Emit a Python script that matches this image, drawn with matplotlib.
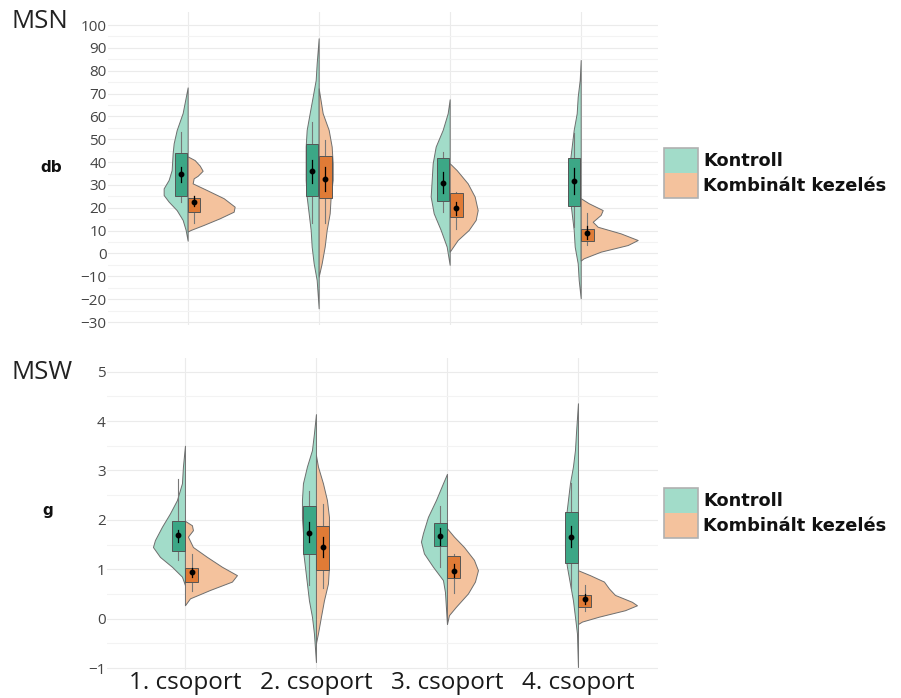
import matplotlib
matplotlib.use('Agg')
import matplotlib.pyplot as plt
import numpy as np
from matplotlib.patches import Rectangle

plt.rcParams['font.family'] = ['Open Sans', 'DejaVu Sans']

# Data
groups = ['1. csoport', '2. csoport', '3. csoport', '4. csoport']
series = ['Kontroll', 'Kombinált kezelés']

# MSN (db): violin outlines as (value, density) pairs, density in arbitrary units
msn_kontroll_violin = [
    [(72.7, 0), (61.5, 5), (54, 11), (48.2, 14), (43.9, 15), (36.5, 16), (32.2, 19),
     (28.5, 24), (25.6, 24), (22.7, 19), (19, 11), (14.7, 5), (10.3, 2), (5.6, 0)],
    [(94.2, 0), (83.2, 2), (75.9, 3), (68.6, 6), (61.4, 9), (54.1, 12), (46.8, 13),
     (39.5, 13), (32.2, 13), (24.9, 12), (17.6, 10), (10.3, 8), (3, 7), (-4.3, 5),
     (-11.6, 2), (-24, 0)],
    [(67.5, 0), (61.4, 2), (54.1, 7), (46.8, 14), (39.5, 17), (32.2, 18), (24.9, 19),
     (17.6, 16), (10.3, 9), (3, 3), (-5, 0)],
    [(84.7, 0), (75.9, 1), (68.6, 3), (61.4, 4), (54.1, 7), (46.8, 9), (39.5, 11),
     (32.2, 12), (24.9, 11), (17.6, 9), (10.3, 7), (3, 6), (-4.3, 3), (-11.6, 2),
     (-19.6, 0)],
]
msn_komb_violin = [
    [(42.5, 0), (40.9, 7), (38.5, 12), (36.2, 15), (34, 10), (32.9, 6), (30.7, 5),
     (27.8, 19), (24.2, 36), (20.5, 47), (18.3, 46), (15.4, 32), (12.5, 16),
     (10.3, 3), (9.6, 0)],
    [(72.3, 0), (61.4, 4), (54.1, 10), (46.8, 13), (39.5, 14), (32.2, 14), (24.9, 12),
     (17.6, 11), (10.3, 8), (3, 6), (-4.3, 3), (-10.1, 0)],
    [(39.5, 0), (36.5, 7), (30.7, 18), (24.9, 25), (19, 28), (14.7, 26), (10.3, 19),
     (5.9, 8), (0.8, 0)],
    [(24.2, 0), (22, 8), (19, 22), (16.9, 20), (13.9, 12), (11.7, 17), (8.8, 40),
     (5.9, 57), (3.7, 47), (0.8, 20), (-2.1, 3), (-3.1, 0)],
]
msn_kontroll_q1 = [25.2, 25.2, 23.0, 20.9]
msn_kontroll_q3 = [44.1, 47.8, 41.7, 41.7]
msn_kontroll_lo = [22.7, 13.2, 18.3, 11.5]
msn_kontroll_hi = [53.0, 57.7, 44.6, 52.8]
msn_kontroll_mean = [34.7, 36.0, 31.0, 31.7]
msn_kontroll_ci = [(31.5, 38.0), (31.0, 41.0), (26.5, 35.8), (26.0, 37.5)]
msn_komb_q1 = [18.3, 24.2, 15.8, 5.6]
msn_komb_q3 = [24.2, 42.7, 26.4, 10.7]
msn_komb_lo = [13.5, 13.2, 10.6, 3.7]
msn_komb_hi = [25.2, 49.7, 27.0, 17.9]
msn_komb_mean = [22.7, 32.8, 19.8, 8.8]
msn_komb_ci = [(21.0, 25.2), (27.5, 38.0), (16.9, 22.7), (6.5, 12.0)]

# MSW (g)
msw_kontroll_violin = [
    [(3.5, 0), (3.08, 2), (2.74, 3), (2.4, 8), (2.13, 15), (1.86, 23), (1.59, 30),
     (1.45, 32), (1.25, 25), (1.05, 13), (0.85, 3), (0.68, 0)],
    [(4.14, 0), (3.75, 2), (3.41, 4), (3.08, 9), (2.74, 13), (2.4, 14), (2.06, 14),
     (1.73, 13), (1.39, 13), (1.05, 11), (0.71, 9), (0.37, 7), (0.04, 4), (-0.3, 2),
     (-0.88, 0)],
    [(2.93, 0), (2.74, 4), (2.4, 11), (2.06, 19), (1.73, 24), (1.56, 26), (1.32, 23),
     (1.05, 14), (0.78, 4), (0.54, 2), (-0.1, 0)],
    [(4.36, 0), (3.75, 2), (3.41, 3), (3.08, 5), (2.74, 8), (2.4, 10), (2.06, 12),
     (1.73, 13), (1.39, 13), (1.05, 11), (0.71, 8), (0.37, 5), (0.04, 3), (-0.3, 1),
     (-0.98, 0)],
]
msw_komb_violin = [
    [(1.98, 0), (1.89, 7), (1.79, 8), (1.66, 3), (1.45, 8), (1.25, 22), (1.05, 37),
     (0.88, 52), (0.75, 47), (0.58, 25), (0.41, 5), (0.27, 0)],
    [(3.31, 0), (3.08, 2), (2.74, 7), (2.4, 11), (2.06, 13), (1.73, 13), (1.39, 13),
     (1.05, 13), (0.71, 12), (0.37, 8), (0.04, 5), (-0.3, 2), (-0.5, 0)],
    [(1.83, 0), (1.66, 7), (1.45, 17), (1.19, 27), (0.98, 31), (0.75, 28), (0.51, 21),
     (0.24, 9), (0.07, 2), (-0.11, 0)],
    [(0.98, 0), (0.88, 12), (0.75, 26), (0.61, 31), (0.48, 37), (0.34, 54), (0.27, 59),
     (0.17, 47), (0.04, 21), (-0.06, 4), (-0.11, 0)],
]
msw_kontroll_q1 = [1.37, 1.31, 1.48, 1.12]
msw_kontroll_q3 = [1.98, 2.27, 1.93, 2.15]
msw_kontroll_lo = [1.19, 0.68, 1.05, 0.61]
msw_kontroll_hi = [2.82, 2.59, 2.27, 2.74]
msw_kontroll_mean = [1.70, 1.74, 1.67, 1.66]
msw_kontroll_ci = [(1.56, 1.79), (1.55, 1.95), (1.50, 1.84), (1.45, 1.87)]
msw_komb_q1 = [0.75, 0.98, 0.83, 0.24]
msw_komb_q3 = [1.03, 1.87, 1.27, 0.48]
msw_komb_lo = [0.56, 0.61, 0.51, 0.16]
msw_komb_hi = [1.31, 2.33, 1.31, 0.68]
msw_komb_mean = [0.94, 1.45, 0.97, 0.39]
msw_komb_ci = [(0.85, 1.03), (1.25, 1.65), (0.85, 1.10), (0.30, 0.50)]

# Colours
c_green_light = '#a2dcc9'
c_orange_light = '#f4c29d'
c_green_box = '#3ca786'
c_orange_box = '#e07b36'
c_edge = '#6e6e6e'

bold_font = ['DejaVu Sans']
dens_scale = 1 / 131.0   # density units -> x units
box_w = 0.095


def draw_panel(ax, kv, bv, kstats, bstats, ylim, ticks, minor, xlim):
    ax.set_xlim(*xlim)
    ax.set_ylim(*ylim)
    for s in ax.spines.values():
        s.set_visible(False)
    ax.set_yticks(ticks)
    ax.set_yticks(minor, minor=True)
    ax.set_xticks(range(1, len(groups) + 1))
    ax.tick_params(length=0, which='both')
    ax.tick_params(axis='y', labelsize=11, labelcolor='#444444', pad=1)
    ax.grid(True, which='major', color='#ebebeb', lw=0.8)
    ax.grid(True, which='minor', axis='y', color='#f3f3f3', lw=0.8)
    ax.set_axisbelow(True)

    for i in range(len(groups)):
        x = i + 1
        y, w = np.array(kv[i]).T
        ax.fill_betweenx(y, x - w * dens_scale, x, facecolor=c_green_light,
                         edgecolor=c_edge, lw=0.7, zorder=2)
        y, w = np.array(bv[i]).T
        ax.fill_betweenx(y, x, x + w * dens_scale, facecolor=c_orange_light,
                         edgecolor=c_edge, lw=0.7, zorder=2)

        for side, st, col in ((-1, kstats, c_green_box), (1, bstats, c_orange_box)):
            q1, q3, lo, hi, mean, ci = st
            bx = x + side * box_w / 2 + side * 0.003
            ax.plot([bx, bx], [lo[i], hi[i]], color='#777777', lw=0.8, zorder=3)
            ax.add_patch(Rectangle((bx - box_w / 2, q1[i]), box_w, q3[i] - q1[i],
                                   facecolor=col, edgecolor='#555555', lw=0.7,
                                   zorder=4))
            ax.plot([bx, bx], ci[i], color='black', lw=0.9, zorder=5)
            ax.plot(bx, mean[i], 'o', color='black', markersize=3.2, zorder=6)


def draw_legend(fig, y_top):
    W, H = 901.0, 698.0
    x0, bw, bh = 663.5, 34.5, 25.0
    fig.add_artist(Rectangle((x0 / W, 1 - (y_top + bh) / H), bw / W, bh / H,
                             transform=fig.transFigure, facecolor=c_green_light,
                             edgecolor='none'))
    fig.add_artist(Rectangle((x0 / W, 1 - (y_top + 2 * bh) / H), bw / W, bh / H,
                             transform=fig.transFigure, facecolor=c_orange_light,
                             edgecolor='none'))
    fig.add_artist(Rectangle((x0 / W, 1 - (y_top + 2 * bh) / H), bw / W, 2 * bh / H,
                             transform=fig.transFigure, facecolor='none',
                             edgecolor='#b0b0b0', lw=1.2))
    for k, lab in enumerate(series):
        fig.text(703 / W, 1 - (y_top + bh * (k + 0.5)) / H, lab, fontsize=12.8,
                 fontweight='bold', family=bold_font, va='center', ha='left',
                 color='#111111')


fig = plt.figure(figsize=(9.01, 6.98), dpi=100)
W, H = 901.0, 698.0

ax1 = fig.add_axes([108 / W, 1 - 325 / H, 550 / W, 313 / H])
draw_panel(ax1, msn_kontroll_violin, msn_komb_violin,
           (msn_kontroll_q1, msn_kontroll_q3, msn_kontroll_lo, msn_kontroll_hi,
            msn_kontroll_mean, msn_kontroll_ci),
           (msn_komb_q1, msn_komb_q3, msn_komb_lo, msn_komb_hi,
            msn_komb_mean, msn_komb_ci),
           (-31.3, 105.7), np.arange(-30, 101, 10), np.arange(-25, 101, 10),
           (0.392, 4.59))
ax1.set_xticklabels([])

ax2 = fig.add_axes([107 / W, 1 - 670 / H, 551 / W, 311.7 / H])
draw_panel(ax2, msw_kontroll_violin, msw_komb_violin,
           (msw_kontroll_q1, msw_kontroll_q3, msw_kontroll_lo, msw_kontroll_hi,
            msw_kontroll_mean, msw_kontroll_ci),
           (msw_komb_q1, msw_komb_q3, msw_komb_lo, msw_komb_hi,
            msw_komb_mean, msw_komb_ci),
           (-1.04, 5.27), np.arange(-1, 6, 1), np.arange(-0.5, 5.1, 1),
           (0.405, 4.611))
ax2.set_xticklabels(groups, fontsize=17.5, color='#1a1a1a')
ax2.tick_params(axis='x', pad=1)

# Panel labels
fig.text(12 / W, 1 - 22 / H, 'MSN', fontsize=18.5, va='center', ha='left', color='#222222')
fig.text(51 / W, 1 - 168 / H, 'db', fontsize=11, fontweight='bold', family=bold_font,
         va='center', ha='center', color='#111111')
fig.text(12 / W, 1 - 372 / H, 'MSW', fontsize=18.5, va='center', ha='left', color='#222222')
fig.text(48 / W, 1 - 511 / H, 'g', fontsize=11, fontweight='bold', family=bold_font,
         va='center', ha='center', color='#111111')

draw_legend(fig, 148.3)
draw_legend(fig, 488.3)

fig.savefig('out.png', dpi=100)
